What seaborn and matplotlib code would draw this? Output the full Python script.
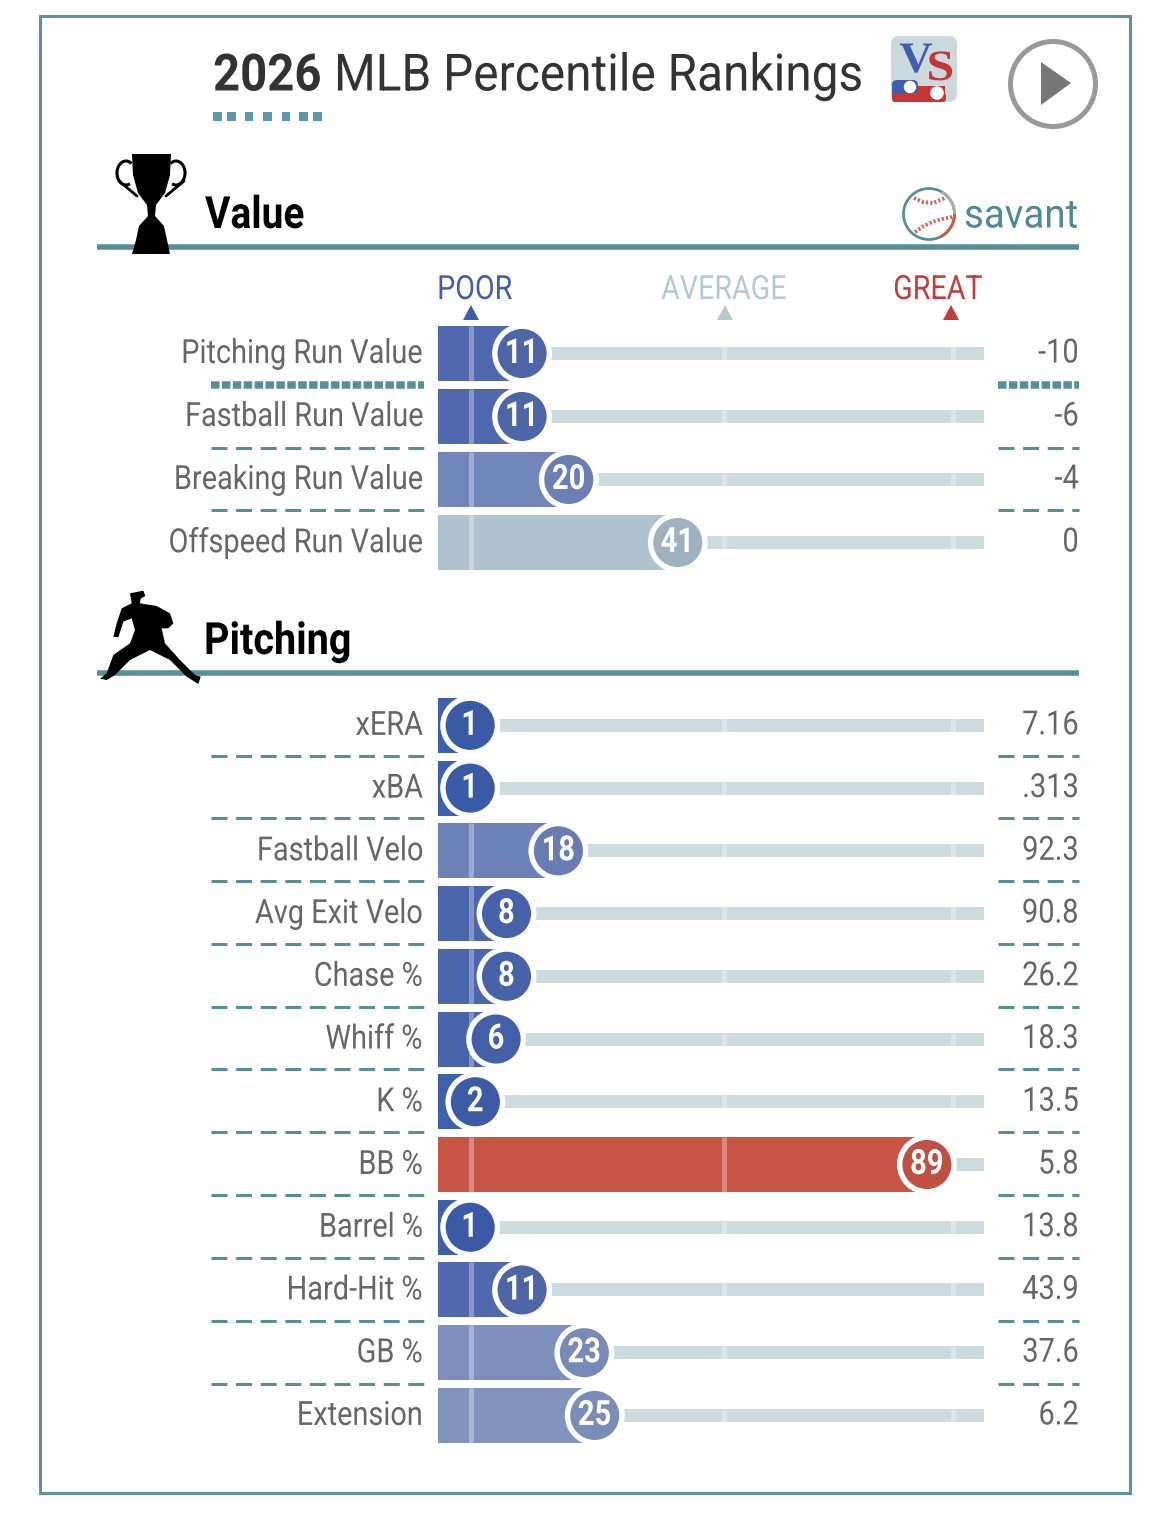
import numpy as np
import pandas as pd
import matplotlib
matplotlib.use("Agg")
import matplotlib.pyplot as plt
import seaborn as sns
from matplotlib.patches import Polygon, Circle, Rectangle, FancyBboxPatch, Arc
from matplotlib.patheffects import AbstractPathEffect
from matplotlib.transforms import Affine2D

# ---------- data ----------
value_metrics = ["Pitching Run Value", "Fastball Run Value", "Breaking Run Value", "Offspeed Run Value"]
value_pct = [11, 11, 20, 41]
value_stats = ["-10", "-6", "-4", "0"]
value_bar_colors = ["#5069ae", "#5069ae", "#7186ba", "#aec2cf"]
value_dot_colors = ["#4d66a8", "#4d66a8", "#6a7fb3", "#9fb1be"]

pitch_metrics = ["xERA", "xBA", "Fastball Velo", "Avg Exit Velo", "Chase %", "Whiff %", "K %", "BB %",
                 "Barrel %", "Hard-Hit %", "GB %", "Extension"]
pitch_pct = [1, 1, 18, 8, 8, 6, 2, 89, 1, 11, 23, 25]
pitch_stats = ["7.16", ".313", "92.3", "90.8", "26.2", "18.3", "13.5", "5.8", "13.8", "43.9", "37.6", "6.2"]
pitch_bar_colors = ["#3d60ad", "#3d60ad", "#6c82b9", "#4a67ad", "#4a67ad", "#4764ad", "#3f60ad", "#c85445",
                    "#3d60ad", "#5069ae", "#7d90bd", "#8094be"]
pitch_dot_colors = ["#3a5aa5", "#3a5aa5", "#677cb2", "#4662a8", "#4662a8", "#425fa7", "#3b5ba5", "#bf5042",
                    "#3a5aa5", "#4d66a8", "#768ab8", "#7a8db9"]

scale_labels = ["POOR", "AVERAGE", "GREAT"]
scale_marks = [1.2, 50, 94]
scale_colors = ["#3f60a8", "#b4cad0", "#c53a3a"]

# ---------- style ----------
W, H = 1170, 1513
sns.set_theme(style="white")
plt.rcParams["font.family"] = ["Roboto", "DejaVu Sans"]
TEAL = "#558f98"
TRACK = "#ccdbde"
GREY = "#666666"
X0, X1 = -5.2, 100
px = 72 / 100  # points per pixel


class Squeeze(AbstractPathEffect):
    """Draw a real text artist narrower, as the condensed face of the reference."""

    def __init__(self, sx, align="left", sy=1.0):
        super().__init__()
        self.sx = sx
        self.sy = sy
        self.k = {"left": 0.0, "center": 0.5, "right": 1.0}[align]

    def draw_path(self, renderer, gc, tpath, affine, rgbFace=None):
        xmax = tpath.vertices[:, 0].max() if len(tpath.vertices) else 0
        shift = (1 - self.sx) * xmax * self.k
        renderer.draw_path(gc, tpath, Affine2D().scale(self.sx, self.sy).translate(shift, 0) + affine, rgbFace)


fig = plt.figure(figsize=(W / 100, H / 100), dpi=100, facecolor="white")

ov = fig.add_axes([0, 0, 1, 1], zorder=5)
ov.set_xlim(0, W)
ov.set_ylim(H, 0)
ov.axis("off")
ov.patch.set_alpha(0)


def panel(metrics, pct, stats, bar_colors, dot_colors, y_top, y_bot):
    n = len(metrics)
    ax = fig.add_axes([438 / W, 1 - y_bot / H, (984 - 438) / W, (y_bot - y_top) / H], zorder=2)
    df = pd.DataFrame({"metric": metrics, "pct": pct, "stat": stats})
    df["bar"] = df["pct"] - X0
    df["track"] = X1 - X0
    track_h = 13 / ((y_bot - y_top) / n)
    bar_h = 55 / ((y_bot - y_top) / n)
    sns.barplot(data=df, y="metric", x="track", color=TRACK, saturation=1, width=track_h, left=X0,
                ax=ax, order=metrics, zorder=1, linewidth=0)
    sns.barplot(data=df, y="metric", x="bar", hue="metric", palette=dict(zip(metrics, bar_colors)),
                saturation=1, width=bar_h, left=X0, ax=ax, order=metrics, legend=False, zorder=2,
                dodge=False, linewidth=0)
    for i, p in enumerate(pct):
        for m in scale_marks:
            h = bar_h if p > m else track_h
            ax.vlines(m, i - h / 2, i + h / 2, color="white", alpha=0.32, lw=5 * px, zorder=3)
    sns.scatterplot(data=df, x="pct", y="metric", hue="metric", palette=dict(zip(metrics, dot_colors)),
                    s=(54.5 * px) ** 2, edgecolor="white", linewidth=5.4 * px, legend=False, ax=ax,
                    zorder=4, clip_on=False)
    for i, p in enumerate(pct):
        ax.text(p, i, str(p), color="white", ha="center", va="center", fontsize=25,
                fontweight="bold", zorder=6, path_effects=[Squeeze(0.84, "center")])
        ax.annotate(stats[i], xy=(X1, i), xytext=(95 * px, 0), textcoords="offset points",
                    ha="right", va="center", color=GREY, fontsize=24, annotation_clip=False,
                    path_effects=[Squeeze(0.87, "right")])
    ax.set_xlim(X0, X1)
    ax.set_ylim(n - 0.5, -0.5)
    ax.set_xlabel("")
    ax.set_ylabel("")
    ax.set_xticks([])
    ax.tick_params(axis="y", length=0, pad=15 * px, labelsize=24, labelcolor=GREY)
    for t in ax.get_yticklabels():
        t.set_path_effects([Squeeze(0.867, "right")])
        t.set_transform(t.get_transform() + matplotlib.transforms.ScaledTranslation(0, 3 / 100, fig.dpi_scale_trans))
    sns.despine(ax=ax, left=True, bottom=True)
    ax.patch.set_alpha(0)
    return ax


ax1 = panel(value_metrics, value_pct, value_stats, value_bar_colors, value_dot_colors, 322, 574)
ax2 = panel(pitch_metrics, pitch_pct, pitch_stats, pitch_bar_colors, pitch_dot_colors, 694, 1446.8)

# frame
ov.add_patch(Rectangle((39.8, 15.8), 1090, 1477, fill=False, ec="#5b93a3", lw=3 * px))

# title
ov.text(213, 90.5, "2026", fontsize=37, fontweight="bold", color="#333333", ha="left", va="baseline",
        path_effects=[Squeeze(0.92, "left")])
ov.text(334, 90.5, "MLB Percentile Rankings", fontsize=37, color="#333333", ha="left", va="baseline",
        path_effects=[Squeeze(0.93, "left")])
for a, b in [(213, 222), (227, 236), (245, 253), (263, 272), (282, 290), (299, 308), (313, 322)]:
    ov.add_patch(Rectangle((a, 112), b - a, 9, color="#5b98ad", lw=0))

# section headers
for y in (246.5, 672.8):
    ov.hlines(y, 97, 1079, color=TEAL, lw=5.5 * px, zorder=1)
ov.text(205, 228, "Value", fontsize=32, fontweight="bold", color="black", ha="left", va="baseline",
        path_effects=[Squeeze(0.875, "left")])
ov.text(204, 654, "Pitching", fontsize=32, fontweight="bold", color="black", ha="left", va="baseline",
        path_effects=[Squeeze(0.89, "left")])

# trophy
tr = [(132, 154), (171, 154), (170, 175), (165, 193), (156, 205), (155, 216), (164, 226), (167, 240), (170, 254),
      (132, 254), (136, 240), (139, 226), (148, 216), (147, 205), (138, 193), (133, 175)]
ov.add_patch(Polygon(tr, closed=True, color="black", lw=0, zorder=3))
for cx, th1, th2 in [(126, 70, 300), (176, -120, 110)]:
    ov.add_patch(Arc((cx, 173), 18, 24, theta1=th1, theta2=th2, color="black", lw=2.2))
ov.plot([119, 137], [181, 196], color="black", lw=2)
ov.plot([184, 166], [181, 196], color="black", lw=2)

# pitcher
pz = [(120, 40), (160, 32), (166, 48), (152, 56), (150, 70), (200, 78), (240, 100), (250, 130), (235, 145),
      (215, 145), (225, 190), (270, 240), (315, 285), (332, 290), (325, 312), (290, 290), (240, 240), (180, 210),
      (120, 240), (75, 285), (50, 300), (30, 296), (50, 280), (70, 225), (120, 190), (135, 150), (125, 115),
      (100, 125), (85, 172), (70, 170), (80, 130), (95, 85), (125, 70)]
ov.add_patch(Polygon([(90 + x / 3, 580 + y / 3) for x, y in pz], closed=True, color="black", lw=0, zorder=3))

# VS logo
ov.add_patch(FancyBboxPatch((897, 42), 54, 54, boxstyle="round,pad=6,rounding_size=8", fc="#c9d9dc", ec="none"))
ov.add_patch(FancyBboxPatch((895, 83), 20, 16, boxstyle="round,pad=3,rounding_size=5", fc="#3f5fae", ec="none"))
ov.add_patch(FancyBboxPatch((895, 96), 48, 3, boxstyle="round,pad=3,rounding_size=3", fc="#c93434", ec="none"))
ov.add_patch(Rectangle((917, 86), 28, 13, color="#c93434", lw=0))
ov.add_patch(Circle((910, 87), 6.2, color="white", lw=0))
ov.add_patch(Circle((937, 93), 6.8, color="white", lw=0))
ov.text(916, 72, "V", family="Liberation Serif", fontweight="bold", fontsize=29, color="#3f5fae", ha="center",
        va="baseline", path_effects=[Squeeze(1.14, "center", 1.08)])
ov.text(940, 80, "S", family="Liberation Serif", fontweight="bold", fontsize=24, color="#c93434", ha="center",
        va="baseline", path_effects=[Squeeze(1.5, "center", 1.3)])

# play button
ov.add_patch(Circle((1053, 84), 42.5, fill=False, ec="#999999", lw=5 * px))
ov.add_patch(Polygon([(1041, 62), (1071, 83), (1041, 105)], closed=True, color="#777777", lw=0))

# savant logo
c = (929, 214)
ov.add_patch(Arc(c, 51, 51, theta1=0, theta2=360, color=TEAL, lw=2.0))
ov.add_patch(Arc(c, 51, 51, theta1=-60, theta2=0, color="#aaaaaa", lw=2.0))
ov.add_patch(Arc(c, 51, 51, theta1=0, theta2=65, color="#cf5a38", lw=2.0))
seam_a = [(914, 198), (923, 202), (933, 203), (945, 198)]
seam_b = [(915, 232), (922, 227), (932, 222), (942, 219), (952, 217)]
for pts in (seam_a, seam_b):
    xs, ys = zip(*pts)
    ov.plot(xs, ys, color="#d9604f", lw=2.8, ls=(0, (0.55, 0.55)))
ov.text(964, 227.5, "savant", family="Roboto", fontsize=29, color="#4d8a95", ha="left", va="baseline",
        path_effects=[Squeeze(0.955, "left")])

# scale header
label_x = [475, 724, 938]
tri_x = [471, 725, 951]
for lab, lx, tx, col in zip(scale_labels, label_x, tri_x, scale_colors):
    ov.text(lx, 299, lab, fontsize=24, color=col, ha="center", va="baseline",
            path_effects=[Squeeze(0.86, "center")])
    ov.add_patch(Polygon([(tx - 8, 320), (tx + 8, 320), (tx, 305)], closed=True, color=col, lw=0))

# separators
DASH = (0, (16 / 3, 8.6 / 3))
DOT = (0, (8.5 / 7.5, 2.4 / 7.5))


def sep(y, style, lw):
    ov.plot([211, 424], [y, y], color=TEAL, lw=lw * px, ls=style, dash_capstyle="butt")
    ov.plot([998, 1079], [y, y], color=TEAL, lw=lw * px, ls=style, dash_capstyle="butt")


sep(385, DOT, 7.5)
for y in (448, 510, 756, 818, 881, 944, 1007, 1069, 1132, 1195, 1258, 1321, 1384):
    sep(y, DASH, 3)

fig.savefig("out.png", dpi=100, facecolor="white")
